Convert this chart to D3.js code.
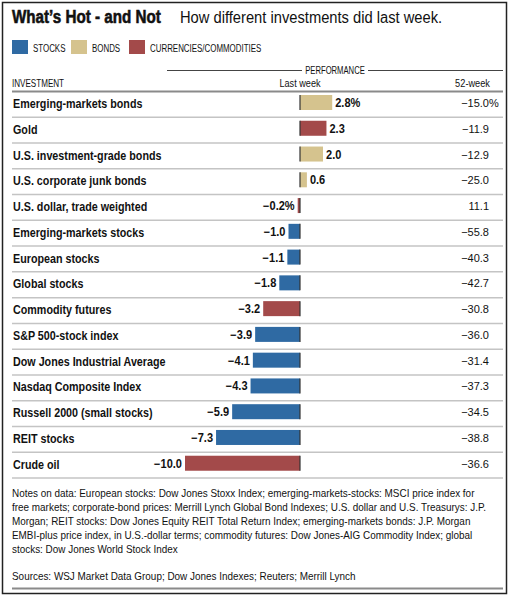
<!DOCTYPE html>
<html>
<head>
<meta charset="utf-8">
<script src="https://cdn.jsdelivr.net/npm/d3@7"></script>
<style>
  body { margin: 0; background: #fff; }
  svg text { font-family: 'Liberation Sans', Arial, sans-serif; fill: #111; }
</style>
</head>
<body>
<svg class="chart" width="510" height="596"></svg>
<script>
var investments = [
  'Emerging-markets bonds', 'Gold', 'U.S. investment-grade bonds',
  'U.S. corporate junk bonds', 'U.S. dollar, trade weighted',
  'Emerging-markets stocks', 'European stocks', 'Global stocks',
  'Commodity futures', 'S&P 500-stock index', 'Dow Jones Industrial Average',
  'Nasdaq Composite Index', 'Russell 2000 (small stocks)', 'REIT stocks', 'Crude oil'
];
var kinds = ['bonds', 'cc', 'bonds', 'bonds', 'cc', 'stocks', 'stocks', 'stocks',
  'cc', 'stocks', 'stocks', 'stocks', 'stocks', 'stocks', 'cc'];
var lastWeek = [2.8, 2.3, 2.0, 0.6, -0.2, -1.0, -1.1, -1.8, -3.2, -3.9, -4.1, -4.3, -5.9, -7.3, -10.0];
var week52 = [-15.0, -11.9, -12.9, -25.0, 11.1, -55.8, -40.3, -42.7, -30.8, -36.0, -31.4, -37.3, -34.5, -38.8, -36.6];

var legendKeys = ['stocks', 'bonds', 'cc'];
var legendLabels = ['STOCKS', 'BONDS', 'CURRENCIES/COMMODITIES'];
var colors = { stocks: '#2f6aa3', bonds: '#d5c38e', cc: '#a34a4a' };

var notes = [
  'Notes on data: European stocks: Dow Jones Stoxx Index; emerging-markets-stocks: MSCI price index for',
  'free markets; corporate-bond prices: Merrill Lynch Global Bond Indexes; U.S. dollar and U.S. Treasurys: J.P.',
  'Morgan; REIT stocks: Dow Jones Equity REIT Total Return Index; emerging-markets bonds: J.P. Morgan',
  'EMBI-plus price index, in U.S.-dollar terms; commodity futures: Dow Jones-AIG Commodity Index; global',
  'stocks: Dow Jones World Stock Index'
];
var sources = 'Sources: WSJ Market Data Group; Dow Jones Indexes; Reuters; Merrill Lynch';

var rows = investments.map(function (d, i) {
  return { name: d, kind: kinds[i], lw: lastWeek[i], wk: week52[i], i: i };
});

// narrow the type horizontally (the original uses a condensed face)
function squeeze(sel, sx) {
  sel.each(function () {
    var t = d3.select(this);
    t.attr('x', +t.attr('x') / sx).attr('transform', 'scale(' + sx + ',1)');
  });
  return sel;
}

var svg = d3.select('.chart');

// outer frame
svg.append('rect')
  .attr('x', 2.5).attr('y', 2.5).attr('width', 504).attr('height', 591)
  .attr('fill', 'none').attr('stroke', '#222').attr('stroke-width', 1.5);

// title
squeeze(svg.append('text').attr('x', 12).attr('y', 23.5)
  .style('font-size', '19px').style('font-weight', 'bold')
  .style('stroke', '#111').style('stroke-width', 0.6)
  .text('What\u2019s Hot - and Not'), 0.8);
squeeze(svg.append('text').attr('x', 180).attr('y', 23.5)
  .style('font-size', '16px')
  .text('How different investments did last week.'), 0.92);

// legend
var legendX = [12, 71, 129];
var lg = svg.selectAll('g.legend')
  .data(legendKeys)
  .join('g')
  .classed('legend', true)
  .attr('transform', function (d, i) { return 'translate(' + legendX[i] + ',40)'; });
lg.append('rect').attr('width', 16).attr('height', 14)
  .attr('fill', function (d) { return colors[d]; });
squeeze(lg.append('text').attr('x', 21).attr('y', 12)
  .style('font-size', '11.5px')
  .text(function (d, i) { return legendLabels[i]; }), 0.69);

var xScale = d3.scaleLinear()
  .domain([-10, 0])
  .range([185, 300]);

var yScale = d3.scaleBand()
  .domain(investments)
  .range([91.5, 478]);

// header
svg.append('line').attr('x1', 167).attr('x2', 302).attr('y1', 70.5).attr('y2', 70.5)
  .attr('stroke', '#444').attr('stroke-width', 1);
svg.append('line').attr('x1', 368).attr('x2', 503).attr('y1', 70.5).attr('y2', 70.5)
  .attr('stroke', '#444').attr('stroke-width', 1);
squeeze(svg.append('text').attr('x', 335).attr('y', 74).attr('text-anchor', 'middle')
  .style('font-size', '10.5px').text('PERFORMANCE'), 0.73);
squeeze(svg.append('text').attr('x', 12).attr('y', 87)
  .style('font-size', '10.5px').text('INVESTMENT'), 0.77);
squeeze(svg.append('text').attr('x', xScale(0)).attr('y', 87).attr('text-anchor', 'middle')
  .style('font-size', '11px').text('Last week'), 0.83);
squeeze(svg.append('text').attr('x', 490).attr('y', 87).attr('text-anchor', 'end')
  .style('font-size', '11px').text('52-week'), 0.84);
svg.append('line').attr('x1', 12).attr('x2', 503).attr('y1', 91.5).attr('y2', 91.5)
  .attr('stroke', '#8a8a8a').attr('stroke-width', 2);

var fmt = function (v) { return d3.format('.1f')(v).replace('-', '\u2013'); };

var g = svg.selectAll('g.row')
  .data(rows)
  .join('g')
  .classed('row', true)
  .attr('transform', function (d) { return 'translate(0,' + yScale(d.name) + ')'; });

g.append('line')
  .attr('x1', 12).attr('x2', 503)
  .attr('y1', yScale.bandwidth()).attr('y2', yScale.bandwidth())
  .attr('stroke', '#c4c4c4').attr('stroke-width', 1.5);

squeeze(g.append('text').attr('x', 13).attr('y', 16.5)
  .style('font-size', '12.5px').style('font-weight', 'bold')
  .text(function (d) { return d.name; }), 0.86);

g.append('rect')
  .attr('x', function (d) { return Math.min(xScale(d.lw), xScale(0)); })
  .attr('y', 3.5)
  .attr('width', function (d) { return Math.abs(xScale(d.lw) - xScale(0)); })
  .attr('height', 15)
  .attr('fill', function (d) { return colors[d.kind]; });

g.append('line')
  .attr('x1', xScale(0)).attr('x2', xScale(0))
  .attr('y1', 3.5).attr('y2', 18.5)
  .attr('stroke', '#333').attr('stroke-width', 1.2);

squeeze(g.append('text')
  .attr('x', function (d) { return d.lw >= 0 ? xScale(d.lw) + 3 : xScale(d.lw) - 3; })
  .attr('y', 15.5)
  .attr('text-anchor', function (d) { return d.lw >= 0 ? 'start' : 'end'; })
  .style('font-size', '12px').style('font-weight', 'bold')
  .text(function (d) { return fmt(d.lw) + (d.i === 0 || d.i === 4 ? '%' : ''); }), 0.92);

g.append('text')
  .attr('x', 489).attr('y', 15.5)
  .attr('text-anchor', 'end')
  .style('font-size', '11px')
  .text(function (d) { return fmt(d.wk); });

g.filter(function (d) { return d.i === 0; })
  .append('text')
  .attr('x', 489).attr('y', 15.5)
  .style('font-size', '11px')
  .text('%');

// notes, narrowed so the first line spans the same width as in print
var noteText = svg.selectAll('text.note')
  .data(notes)
  .join('text')
  .classed('note', true)
  .attr('x', 12)
  .attr('y', function (d, i) { return 497 + i * 14; })
  .style('font-size', '10.8px')
  .text(function (d) { return d; });

var src = svg.append('text').attr('x', 12).attr('y', 580)
  .style('font-size', '10.8px').text(sources);

var noteScale = Math.min(1, 463 / noteText.node().getComputedTextLength());
squeeze(noteText, noteScale);
squeeze(src, noteScale);

svg.append('line').attr('x1', 12).attr('x2', 503).attr('y1', 588.5).attr('y2', 588.5)
  .attr('stroke', '#8a8a8a').attr('stroke-width', 2);
</script>
</body>
</html>
